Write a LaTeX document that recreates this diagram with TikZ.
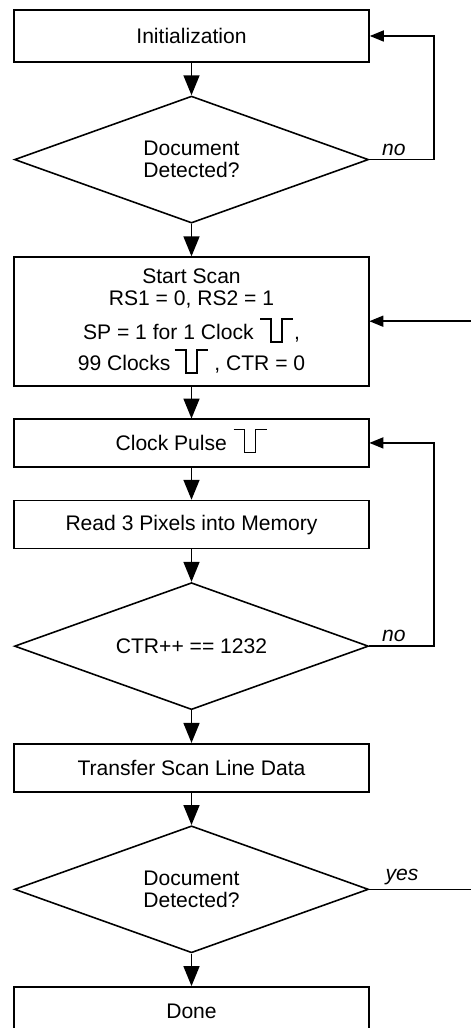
\documentclass[tikz,border=0pt]{standalone}
\usepackage{fontspec}
\setmainfont{Liberation Sans}
\usepackage{tikz}
\usetikzlibrary{shapes.geometric, arrows.meta, positioning}

% small clock pulse glyph used inside the node texts
\newcommand{\clockpulse}{\smash{\tikz[baseline={(0,0.04)}, line width=0.9pt]\draw (0,0.46) -- (0.22,0.46) -- (0.22,0) -- (0.44,0) -- (0.44,0.46) -- (0.66,0.46);}}

\begin{document}
\begin{tikzpicture}[node distance=0.65cm, line width=0.9pt,
    every node/.style={font=\fontsize{12}{12.5}\selectfont, align=center, inner sep=0pt},
    box/.style={draw, rectangle, minimum width=7.1cm, minimum height=0.96cm},
    decision/.style={draw, diamond, aspect=2.8, minimum width=7.08cm, minimum height=2.54cm},
    flow/.style={-{Triangle[length=0.4cm, width=0.32cm]}},
    loop/.style={-{Triangle[length=0.28cm, width=0.22cm]}},
    tag/.style={font=\fontsize{12}{12.5}\selectfont\itshape, inner sep=2pt}]
    \useasboundingbox (-3.83,0.72) rectangle (5.59,-19.84);

    % Main Flow
    \node (init) [box, minimum height=1.04cm] at (0,0) {Initialization};
    \node (detect1) [decision, below=of init] {Document\\Detected?};
    \node (scan) [box, minimum height=2.58cm, below=of detect1] {Start Scan\\RS1 = 0, RS2 = 1\\[7pt]SP = 1 for 1 Clock \clockpulse,\\[5pt]99 Clocks\,\clockpulse\ , CTR = 0};
    \node (pulse) [box, below=of scan] {Clock Pulse \clockpulse};
    \node (read) [box, below=of pulse] {Read 3 Pixels into Memory};
    \node (count) [decision, below=of read] {CTR++ == 1232};
    \node (transfer) [box, below=of count] {Transfer Scan Line Data};
    \node (detect2) [decision, below=of transfer] {Document\\Detected?};
    \node (done) [box, below=of detect2] {Done};

    % Downward Connectors
    \draw[flow] (init) -- (detect1);
    \draw[flow] (detect1) -- (scan);
    \draw[flow] (scan) -- (pulse);
    \draw[flow] (pulse) -- (read);
    \draw[flow] (read) -- (count);
    \draw[flow] (count) -- (transfer);
    \draw[flow] (transfer) -- (detect2);
    \draw[flow] (detect2) -- (done);

    % Loop Rails
    \coordinate[right=1.28cm of init.east] (rail);
    \coordinate[right=2.04cm of scan.east] (scanin);
    \coordinate[right=2.04cm of detect2.east] (yesout);

    % No Branches
    \draw[loop] (detect1.east) -- node[tag, above, pos=0.38] {no} (detect1.east -| rail) |- (init.east);
    \draw[loop] (count.east) -- node[tag, above, pos=0.38] {no} (count.east -| rail) |- (pulse.east);

    % Off-Page Connectors
    \draw[loop] (scanin) -- (scan.east);
    \draw (detect2.east) -- node[tag, above, pos=0.32] {yes} (yesout);
\end{tikzpicture}
\end{document}
